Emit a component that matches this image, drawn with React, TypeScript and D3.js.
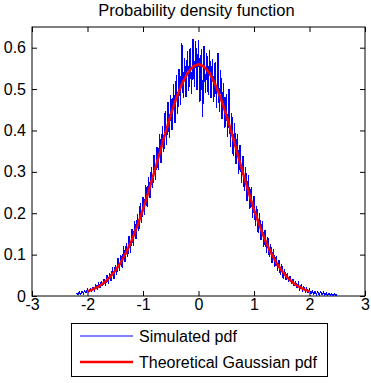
import React, { useEffect, useRef } from "react";
import * as d3 from "d3";

// simulated histogram pdf (x from -2.2 to 2.5, step 0.025)
const simStart = -2.2;
const simStep = 0.025;
const simulatedPdf = [
  0.008, 0.003, 0.010, 0.004, 0.011, 0.006, 0.013, 0.008, 0.016, 0.009,
  0.018, 0.012, 0.021, 0.013, 0.026, 0.017, 0.030, 0.020, 0.036, 0.024,
  0.042, 0.024, 0.050, 0.030, 0.056, 0.036, 0.070, 0.041, 0.074, 0.050,
  0.092, 0.060, 0.098, 0.068, 0.120, 0.082, 0.128, 0.094, 0.146, 0.104,
  0.162, 0.122, 0.180, 0.138, 0.198, 0.158, 0.224, 0.176, 0.240, 0.196,
  0.268, 0.216, 0.288, 0.238, 0.312, 0.262, 0.340, 0.280, 0.360, 0.304,
  0.392, 0.322, 0.410, 0.348, 0.448, 0.365, 0.468, 0.382, 0.486, 0.400,
  0.512, 0.418, 0.535, 0.440, 0.548, 0.462, 0.612, 0.478, 0.575, 0.482,
  0.592, 0.495, 0.600, 0.488, 0.622, 0.505, 0.615, 0.498, 0.618, 0.470,
  0.598, 0.432, 0.605, 0.490, 0.586, 0.485, 0.595, 0.478, 0.572, 0.470,
  0.565, 0.455, 0.588, 0.445, 0.545, 0.428, 0.515, 0.405, 0.488, 0.384,
  0.500, 0.360, 0.442, 0.338, 0.418, 0.318, 0.392, 0.296, 0.366, 0.272,
  0.338, 0.254, 0.312, 0.230, 0.292, 0.210, 0.264, 0.188, 0.242, 0.170,
  0.218, 0.152, 0.200, 0.136, 0.180, 0.118, 0.160, 0.104, 0.142, 0.094,
  0.126, 0.080, 0.114, 0.070, 0.096, 0.060, 0.088, 0.050, 0.076, 0.042,
  0.065, 0.040, 0.056, 0.035, 0.048, 0.029, 0.041, 0.024, 0.035, 0.019,
  0.030, 0.016, 0.026, 0.013, 0.022, 0.010, 0.019, 0.008, 0.016, 0.006,
  0.013, 0.005, 0.012, 0.004, 0.011, 0.003, 0.010, 0.003, 0.009, 0.002,
  0.008, 0.002, 0.007, 0.001, 0.006, 0.001, 0.005, 0.001, 0.003,
];

// theoretical curve (x from -2 to 2, step 0.1)
const theoStart = -2;
const theoStep = 0.1;
const theoreticalPdf = [
  0.011, 0.016, 0.023, 0.032, 0.045, 0.061, 0.081, 0.106, 0.135, 0.170,
  0.209, 0.252, 0.298, 0.345, 0.393, 0.438, 0.478, 0.512, 0.538, 0.5545,
  0.560,
  0.5545, 0.538, 0.512, 0.478, 0.438, 0.393, 0.345, 0.298, 0.252, 0.209,
  0.170, 0.135, 0.106, 0.081, 0.061, 0.045, 0.032, 0.023, 0.016, 0.011,
];

const xTicks = [-3, -2, -1, 0, 1, 2, 3];
const yTicks = [0, 0.1, 0.2, 0.3, 0.4, 0.5, 0.6];
const legendLabels = ["Simulated pdf", "Theoretical Gaussian pdf"];
const seriesColors = ["#0000ff", "#ff0000"];

const W = 371;
const H = 383;
const left = 32, right = 365, top = 27, bottom = 296;
const font = "'Liberation Sans', Arial, sans-serif";

export default function App() {
  const svgRef = useRef<SVGSVGElement | null>(null);

  useEffect(() => {
    const svg = d3.select(svgRef.current);
    svg.selectAll("*").remove();

    const x = d3.scaleLinear().domain([-3, 3]).range([left, right]);
    const y = d3.scaleLinear().domain([0, 0.65]).range([bottom, top]);

    svg.append("rect").attr("width", W).attr("height", H).attr("fill", "#fff");

    // title
    svg
      .append("text")
      .attr("x", (left + right) / 2 - 2)
      .attr("y", 16)
      .attr("text-anchor", "middle")
      .attr("font-family", font)
      .attr("font-size", 16.5)
      .text("Probability density function");

    const styleAxis = (g: any) => {
      g.select(".domain").remove();
      g.selectAll("line").attr("stroke", "#000");
      g.selectAll("text").attr("font-family", font).attr("font-size", 16).attr("fill", "#000");
    };

    svg
      .append("g")
      .attr("transform", `translate(0,${bottom})`)
      .call(d3.axisBottom(x).tickValues(xTicks).tickSizeInner(-5).tickSizeOuter(0).tickPadding(3).tickFormat((d: any) => String(d)))
      .call(styleAxis);
    svg
      .append("g")
      .attr("transform", `translate(0,${top})`)
      .call(d3.axisTop(x).tickValues(xTicks).tickSizeInner(-5).tickSizeOuter(0).tickFormat(() => ""))
      .call(styleAxis);
    svg
      .append("g")
      .attr("transform", `translate(${left},0)`)
      .call(d3.axisLeft(y).tickValues(yTicks).tickSizeInner(-5).tickSizeOuter(0).tickPadding(6).tickFormat((d: any) => (d === 0 ? "0" : d3.format(".1f")(d))))
      .call(styleAxis);
    svg
      .append("g")
      .attr("transform", `translate(${right},0)`)
      .call(d3.axisRight(y).tickValues(yTicks).tickSizeInner(-5).tickSizeOuter(0).tickFormat(() => ""))
      .call(styleAxis);

    svg
      .append("rect")
      .attr("x", left)
      .attr("y", top)
      .attr("width", right - left)
      .attr("height", bottom - top)
      .attr("fill", "none")
      .attr("stroke", "#000")
      .attr("stroke-width", 1);

    const line = d3
      .line<[number, number]>()
      .x((d) => x(d[0]))
      .y((d) => y(d[1]));

    const simPts: [number, number][] = simulatedPdf.map((v, i) => [simStart + i * simStep, v]);
    const theoPts: [number, number][] = theoreticalPdf.map((v, i) => [theoStart + i * theoStep, v]);

    svg
      .append("path")
      .attr("d", line(simPts))
      .attr("fill", "none")
      .attr("stroke", seriesColors[0])
      .attr("stroke-width", 1.2)
      .attr("shape-rendering", "crispEdges");
    svg
      .append("path")
      .attr("d", line(theoPts))
      .attr("fill", "none")
      .attr("stroke", seriesColors[1])
      .attr("stroke-width", 2.5)
      .attr("stroke-linejoin", "round");

    // legend
    const lg = svg.append("g");
    lg.append("rect")
      .attr("x", 71.5)
      .attr("y", 323.5)
      .attr("width", 256)
      .attr("height", 53)
      .attr("fill", "#fff")
      .attr("stroke", "#000");
    legendLabels.forEach((label, i) => {
      const ly = 336 + i * 26;
      lg.append("line")
        .attr("x1", 80)
        .attr("x2", 133)
        .attr("y1", ly)
        .attr("y2", ly)
        .attr("stroke", seriesColors[i])
        .attr("stroke-width", i === 0 ? 1 : 2.5);
      lg.append("text")
        .attr("x", 139)
        .attr("y", ly + 6)
        .attr("font-family", font)
        .attr("font-size", 16)
        .text(label);
    });
  }, []);

  return (
    <svg
      ref={svgRef}
      width={W}
      height={H}
      style={{ position: "absolute", left: 0, top: 0 }}
    />
  );
}
